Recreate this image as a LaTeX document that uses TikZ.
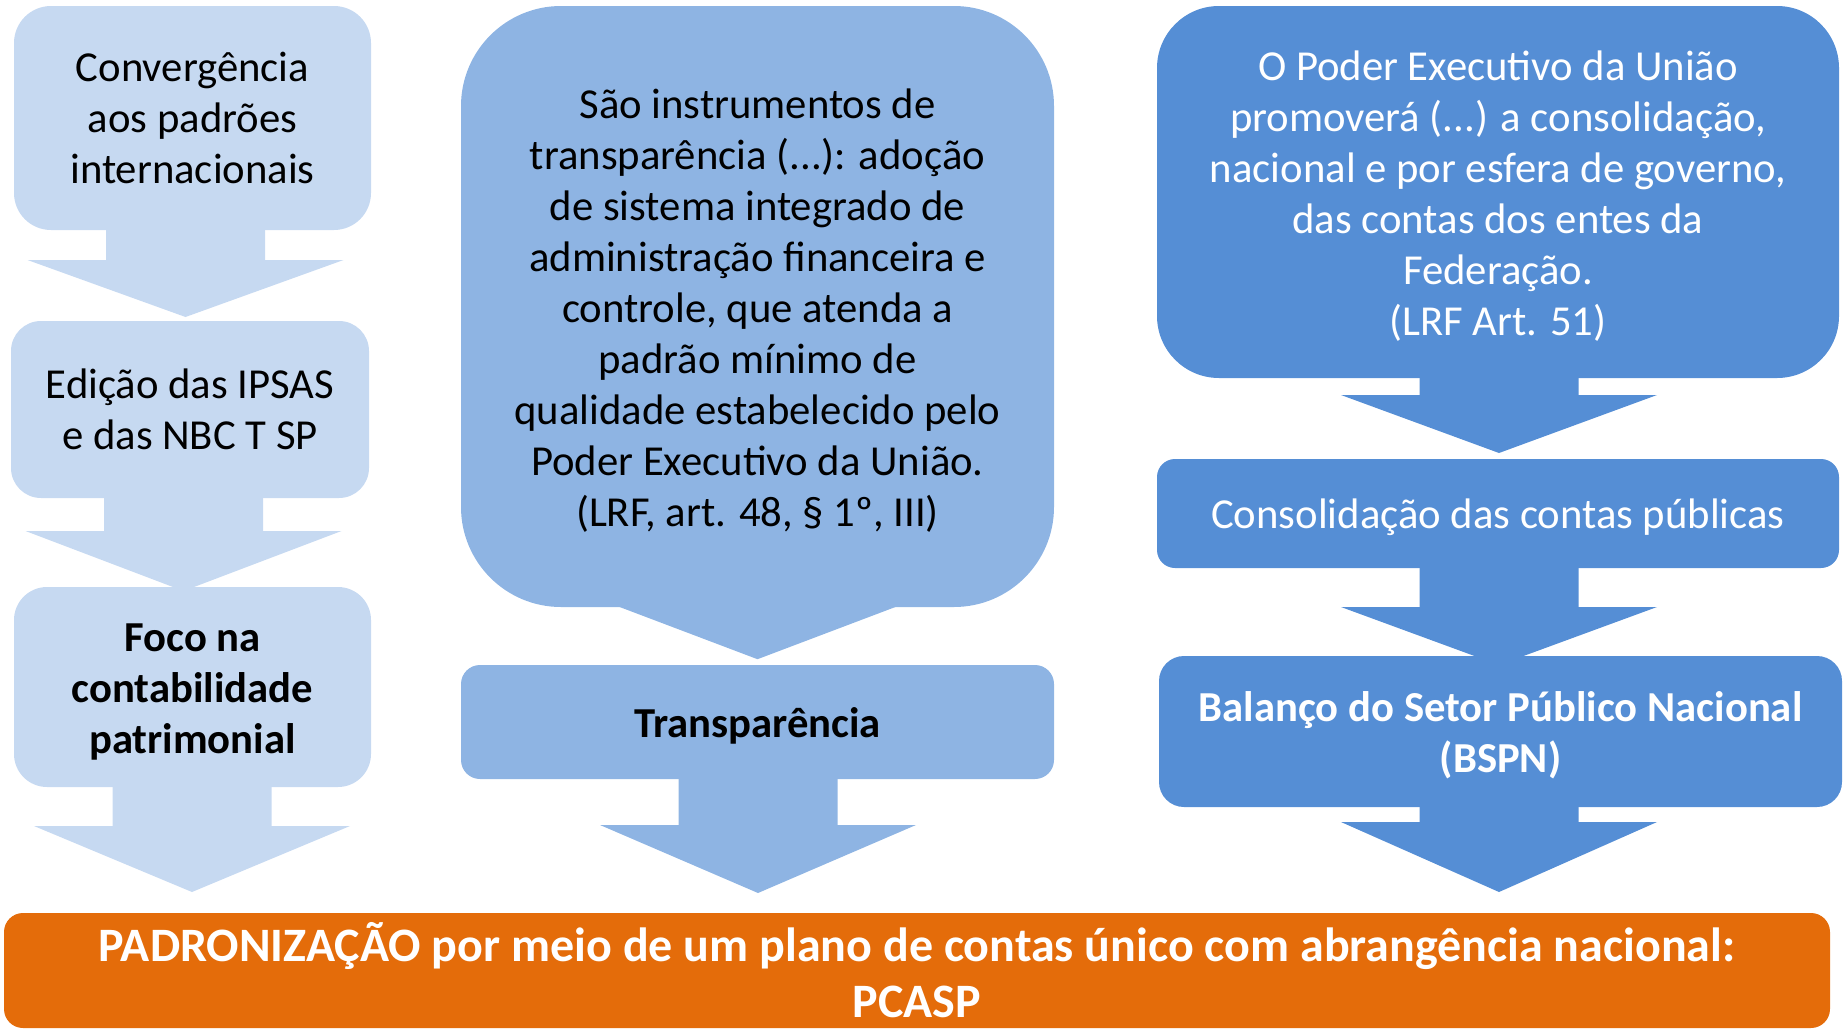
\documentclass[tikz,border=0pt]{standalone}
\usepackage{fontspec}
\setmainfont{Carlito}
\usetikzlibrary{calc,positioning,backgrounds}
\definecolor{paleblue}{HTML}{C6D9F1}
\definecolor{midblue}{HTML}{8EB4E3}
\definecolor{deepblue}{HTML}{558ED5}
\definecolor{pcaspor}{HTML}{E46C0A}
\newcommand{\blockarrow}[4]{%
  \fill[#1] let \p1=(#3), \p2=(#2.south) in
    (\x1-79.5pt,\y2+1pt) -- (\x1-79.5pt,\y1+#4pt) -- (\x1-158pt,\y1+#4pt) -- (\p1)
    -- (\x1+158pt,\y1+#4pt) -- (\x1+79.5pt,\y1+#4pt) -- (\x1+79.5pt,\y2+1pt) -- cycle;}
\begin{document}
\begin{tikzpicture}[x=1pt,y=-1pt]
    \tikzstyle{every node}=[font=\fontsize{42.7}{51}\selectfont,align=center,inner sep=0pt]
    \tikzstyle{leftbox}=[fill=paleblue,text=black]
    \tikzstyle{midbox}=[fill=midblue,text=black]
    \tikzstyle{rightbox}=[fill=deepblue,text=white]
      \useasboundingbox (0,0) rectangle (1845,1031);

      \node[leftbox,minimum width=357pt,minimum height=224pt,rounded corners=37pt] (conv) at (192.5,118) {Convergência\\aos padrões\\internacionais};
      \node[leftbox,minimum width=358pt,minimum height=177pt,rounded corners=30pt] (ipsas) at (190,409.5) {Edição das IPSAS\\e das NBC T SP};
      \node[leftbox,minimum width=357pt,minimum height=200pt,rounded corners=33pt,font=\fontsize{42.7}{51}\selectfont\bfseries] (foco) at (192.5,687) {\rule{0pt}{37pt}Foco na\\contabilidade\\patrimonial};

      \node[midbox,minimum width=593pt,minimum height=601pt,rounded corners=100pt] (instr) at (757.5,306.5) {\rule{0pt}{37pt}São instrumentos de\\transparência (...): adoção\\de sistema integrado de\\administração financeira e\\controle, que atenda a\\padrão mínimo de\\qualidade estabelecido pelo\\Poder Executivo da União.\\(LRF, art. 48, § 1º, III)};
      \node[midbox,minimum width=593pt,minimum height=114pt,rounded corners=19pt,font=\fontsize{42.7}{51}\selectfont\bfseries] (transp) at (757.5,722) {\rule{0pt}{37pt}Transparência};

      \node[rightbox,minimum width=682pt,minimum height=372pt,rounded corners=62pt] (poder) at (1498,192) {\rule{0pt}{37pt}O Poder Executivo da União\\promoverá (...) a consolidação,\\nacional e por esfera de governo,\\das contas dos entes da\\Federação.\\(LRF Art. 51)};
      \node[rightbox,minimum width=682pt,minimum height=109pt,rounded corners=18pt] (consol) at (1498,513.5) {\rule{0pt}{37pt}Consolidação das contas públicas};
      \node[rightbox,minimum width=683pt,minimum height=151pt,rounded corners=25pt,font=\fontsize{42.7}{51}\selectfont\bfseries] (bspn) at (1500.5,731.5) {\rule{0pt}{37pt}Balanço do Setor Público Nacional\\(BSPN)};

      \node[fill=pcaspor,text=white,minimum width=1826pt,minimum height=115pt,rounded corners=19pt,font=\fontsize{48}{56}\selectfont\bfseries] (pcasp) at (917,970.5) {PADRONIZAÇÃO por meio de um plano de contas único com abrangência nacional:\\PCASP};

      \coordinate (t1) at (185.5,317);
      \coordinate (t2) at (183.5,591);
      \coordinate (t3) at (192,892);
      \coordinate (t4) at (758,893);
      \coordinate (t5) at (1499,453);
      \coordinate (t6) at (1499,665);
      \coordinate (t7) at (1499,892);

      \begin{scope}[on background layer]
      \blockarrow{paleblue}{conv}{t1}{57}
      \blockarrow{paleblue}{ipsas}{t2}{60}
      \blockarrow{paleblue}{foco}{t3}{66}
      \fill[midblue] let \p1=(instr.south) in (\x1-140pt,\y1+1pt) -- (\x1,\y1-52pt) -- (\x1+140pt,\y1+1pt) -- cycle;
      \blockarrow{midblue}{transp}{t4}{68}
      \blockarrow{deepblue}{poder}{t5}{58}
      \blockarrow{deepblue}{consol}{t6}{58}
      \blockarrow{deepblue}{bspn}{t7}{70}
      \end{scope}
    \end{tikzpicture}
\end{document}
